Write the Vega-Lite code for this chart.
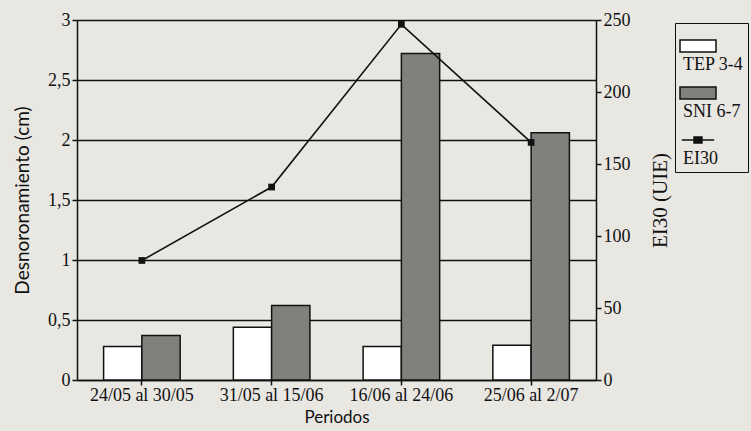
{
  "$schema": "https://vega.github.io/schema/vega-lite/v6.json",
  "width": 519,
  "height": 360,
  "autosize": {"type": "none"},
  "padding": {"left": 77, "top": 20, "right": 155, "bottom": 51},
  "background": "#e9e7e2",
  "config": {"view": {"stroke": null}, "font": "Liberation Serif"},
  "datasets": {
    "barras": [
      {"periodo": "24/05 al 30/05", "serie": "TEP 3-4", "valor": 0.28},
      {"periodo": "24/05 al 30/05", "serie": "SNI 6-7", "valor": 0.37},
      {"periodo": "31/05 al 15/06", "serie": "TEP 3-4", "valor": 0.44},
      {"periodo": "31/05 al 15/06", "serie": "SNI 6-7", "valor": 0.62},
      {"periodo": "16/06 al 24/06", "serie": "TEP 3-4", "valor": 0.28},
      {"periodo": "16/06 al 24/06", "serie": "SNI 6-7", "valor": 2.72},
      {"periodo": "25/06 al 2/07", "serie": "TEP 3-4", "valor": 0.29},
      {"periodo": "25/06 al 2/07", "serie": "SNI 6-7", "valor": 2.06}
    ],
    "linea": [
      {"periodo": "24/05 al 30/05", "ei30": 83},
      {"periodo": "31/05 al 15/06", "ei30": 134},
      {"periodo": "16/06 al 24/06", "ei30": 247},
      {"periodo": "25/06 al 2/07", "ei30": 165}
    ]
  },
  "layer": [
    {
      "data": {"name": "barras"},
      "mark": {"type": "bar", "stroke": "#111111", "strokeWidth": 1.5},
      "encoding": {
        "x": {
          "field": "periodo", "type": "nominal",
          "sort": ["24/05 al 30/05", "31/05 al 15/06", "16/06 al 24/06", "25/06 al 2/07"],
          "scale": {"paddingInner": 0.41, "paddingOuter": 0.205},
          "axis": {
            "title": "Periodos", "labelAngle": 0, "labelFont": "Liberation Serif", "labelFontSize": 18,
            "labelColor": "#111111", "labelPadding": 1, "tickColor": "#111111", "tickSize": 5, "tickWidth": 1.5,
            "domainColor": "#111111", "domainWidth": 1.5,
            "titleFont": "Lato", "titleFontSize": 17, "titleFontWeight": "normal", "titleColor": "#111111", "titlePadding": 5
          }
        },
        "xOffset": {"field": "serie", "type": "nominal", "sort": ["TEP 3-4", "SNI 6-7"], "scale": {"paddingInner": 0, "paddingOuter": 0}},
        "y": {
          "field": "valor", "type": "quantitative",
          "scale": {"domain": [0, 3], "nice": false},
          "axis": {
            "orient": "left", "values": [0, 0.5, 1, 1.5, 2, 2.5, 3], "format": "~g",
            "labelExpr": "replace(datum.label, '.', ',')",
            "grid": true, "gridColor": "#111111", "gridWidth": 1.4, "gridOpacity": 1,
            "tickColor": "#111111", "tickSize": 5, "tickWidth": 1.5, "domainColor": "#111111", "domainWidth": 1.5,
            "labelFont": "Liberation Serif", "labelFontSize": 18, "labelColor": "#111111", "labelPadding": 2,
            "title": "Desnoronamiento (cm)", "titleFont": "Lato", "titleFontSize": 19, "titleFontWeight": "normal",
            "titleColor": "#111111", "titlePadding": 15
          }
        },
        "color": {
          "field": "serie", "type": "nominal",
          "scale": {"domain": ["TEP 3-4", "SNI 6-7", "EI30"], "range": ["#ffffff", "#82807d", "#111111"]},
          "legend": {
            "title": null, "orient": "none", "legendX": 598, "legendY": 3,
            "strokeColor": "#111111", "padding": 4,
            "symbolSize": 1296, "symbolStrokeWidth": 1.5, "symbolStrokeColor": "#111111",
            "labelFont": "Liberation Serif", "labelFontSize": 18, "labelColor": "#111111",
            "labelOffset": -34, "rowPadding": -3,
            "encode": {
              "symbols": {"update": {
                "shape": {"signal": "datum.value === 'EI30' ? 'M-0.9,0H0.9M-0.22,-0.17H0.22V0.17H-0.22Z' : 'M-1,-0.33H1V0.33H-1Z'"},
                "fill": {"signal": "datum.value === 'TEP 3-4' ? '#ffffff' : datum.value === 'SNI 6-7' ? '#82807d' : '#111111'"},
                "stroke": {"value": "#111111"},
                "strokeWidth": {"value": 1.5},
                "opacity": {"value": 1}
              }},
              "labels": {"update": {"dy": {"value": 19}}}
            }
          }
        }
      }
    },
    {
      "data": {"name": "linea"},
      "mark": {"type": "line", "color": "#111111", "strokeWidth": 1.6, "point": {"shape": "square", "size": 45, "filled": true, "color": "#111111"}},
      "encoding": {
        "x": {"field": "periodo", "type": "nominal", "sort": ["24/05 al 30/05", "31/05 al 15/06", "16/06 al 24/06", "25/06 al 2/07"]},
        "y": {
          "field": "ei30", "type": "quantitative",
          "scale": {"domain": [0, 250], "nice": false},
          "axis": {
            "orient": "right", "values": [0, 50, 100, 150, 200, 250], "grid": false,
            "tickColor": "#111111", "tickSize": 5, "tickWidth": 1.5, "domainColor": "#111111", "domainWidth": 1.5,
            "labelFont": "Liberation Serif", "labelFontSize": 18, "labelColor": "#111111", "labelPadding": 2,
            "title": "EI30 (UIE)", "titleAngle": 270, "titleFont": "Liberation Serif", "titleFontSize": 21,
            "titleFontWeight": "normal", "titleColor": "#111111", "titlePadding": 40
          }
        }
      }
    }
  ],
  "resolve": {"scale": {"y": "independent"}}
}
